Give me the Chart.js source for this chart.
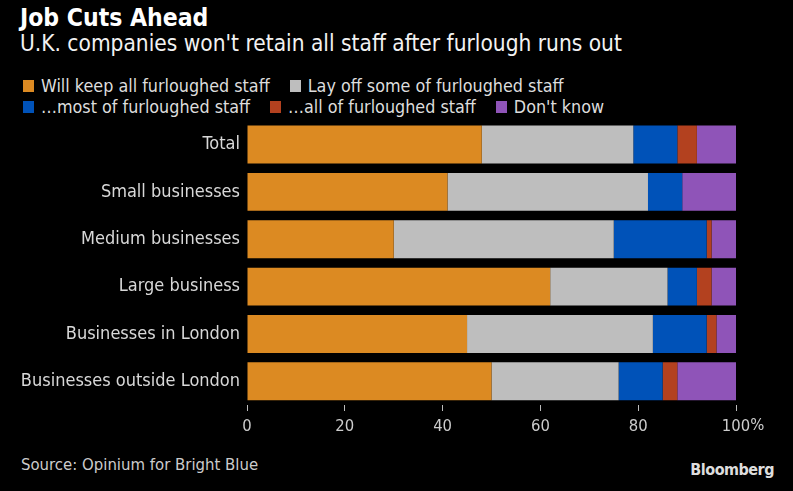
<!DOCTYPE html>
<html>
<head>
<meta charset="utf-8">
<script src="https://cdn.jsdelivr.net/npm/chart.js@4"></script>
<style>
  body { margin: 0; background: #000; width: 793px; height: 491px; overflow: hidden; position: relative;
         font-family: "DejaVu Sans Condensed", "Liberation Sans Narrow", sans-serif; color: #fff; }
  #title { position: absolute; left: 20px; top: 3px; font-size: 24.5px; font-weight: bold; }
  #subtitle { position: absolute; left: 20px; top: 30px; font-size: 22.5px; color: #f2f2f2; }
  .legendRow { position: absolute; left: 23px; font-size: 17.8px; color: #ddd; display: flex; align-items: center; white-space: nowrap; }
  .item { display: flex; align-items: center; margin-right: 20px; }
  .sw { width: 11px; height: 12px; margin-right: 7px; }
  #source { position: absolute; left: 21px; top: 455px; font-size: 16.6px; color: #ccc; }
  #logo { position: absolute; right: 19px; top: 460px; font-size: 16px; font-weight: bold; color: #ddd;
          font-family: "Liberation Sans Narrow", "DejaVu Sans Condensed", sans-serif; letter-spacing: -0.5px; }
  #wrap { position: absolute; left: 0; top: 103px; width: 793px; height: 337px; }
</style>
</head>
<body>
<div id="title">Job Cuts Ahead</div>
<div id="subtitle">U.K. companies won't retain all staff after furlough runs out</div>
<div class="legendRow" id="leg1" style="top:75px"></div>
<div class="legendRow" id="leg2" style="top:96px"></div>
<div id="wrap"><canvas id="chart"></canvas></div>
<div id="source">Source: Opinium for Bright Blue</div>
<div id="logo">Bloomberg</div>
<script>
const categories = ['Total', 'Small businesses', 'Medium businesses', 'Large business',
                    'Businesses in London', 'Businesses outside London'];
const seriesNames = ['Will keep all furloughed staff', 'Lay off some of furloughed staff',
                     '...most of furloughed staff', '...all of furloughed staff', "Don't know"];
const keepAll  = [48, 41, 30, 62, 45, 50];
const laySome  = [31, 41, 45, 24, 38, 26];
const layMost  = [9, 7, 19, 6, 11, 9];
const layAll   = [4, 0, 1, 3, 2, 3];
const dontKnow = [8, 11, 5, 5, 4, 12];
const xTicks = [0, 20, 40, 60, 80, 100];
const colors = ['#dc8a22', '#bebebe', '#0052b8', '#b3411f', '#8f54b8'];

const values = [keepAll, laySome, layMost, layAll, dontKnow];
const fontFam = '"DejaVu Sans Condensed", "Liberation Sans Narrow", sans-serif';

// html legend, two rows like the original
seriesNames.forEach((name, i) => {
  const row = document.getElementById(i < 2 ? 'leg1' : 'leg2');
  const el = document.createElement('div');
  el.className = 'item';
  el.innerHTML = '<div class="sw" style="background:' + colors[i] + '"></div>' + name.replace('...', '…');
  row.appendChild(el);
});

// "100" sits centred on its tick, the % hangs off to the right
const percentSign = {
  id: 'percentSign',
  afterDraw(chart) {
    const x = chart.scales.x;
    const ctx = chart.ctx;
    ctx.save();
    ctx.font = '16.5px ' + fontFam;
    ctx.fillStyle = '#ccc';
    ctx.textBaseline = 'middle';
    const w = ctx.measureText('100').width;
    ctx.fillText('%', x.getPixelForValue(100) + w / 2, x.top + 6 + 6 + 9);
    ctx.restore();
  }
};

new Chart(document.getElementById('chart'), {
  type: 'bar',
  data: {
    labels: categories,
    datasets: values.map((v, i) => ({
      label: seriesNames[i],
      data: v,
      backgroundColor: colors[i],
      borderWidth: 0,
      barPercentage: 0.8,
      categoryPercentage: 1
    }))
  },
  plugins: [percentSign],
  options: {
    indexAxis: 'y',
    responsive: true,
    maintainAspectRatio: false,
    animation: false,
    layout: { padding: { left: 0, right: 57, top: 8, bottom: 0 } },
    plugins: { legend: { display: false }, tooltip: { enabled: false } },
    scales: {
      x: {
        stacked: true,
        min: 0, max: 100,
        afterBuildTicks(scale) { scale.ticks = xTicks.map(v => ({ value: v })); },
        afterFit(scale) { scale.height = 35; },
        border: { display: false },
        grid: { drawOnChartArea: false, drawTicks: true, tickLength: 6, color: '#bbb', lineWidth: 1 },
        ticks: {
          color: '#ccc',
          padding: 6,
          font: { family: fontFam, size: 16.5 },
          callback: v => String(v)
        }
      },
      y: {
        stacked: true,
        afterFit(scale) { scale.width = 247; },
        border: { display: false },
        grid: { display: false, drawTicks: false },
        ticks: {
          color: '#d8d8d8',
          padding: 7,
          font: { family: fontFam, size: 18 }
        }
      }
    }
  }
});
</script>
</body>
</html>
